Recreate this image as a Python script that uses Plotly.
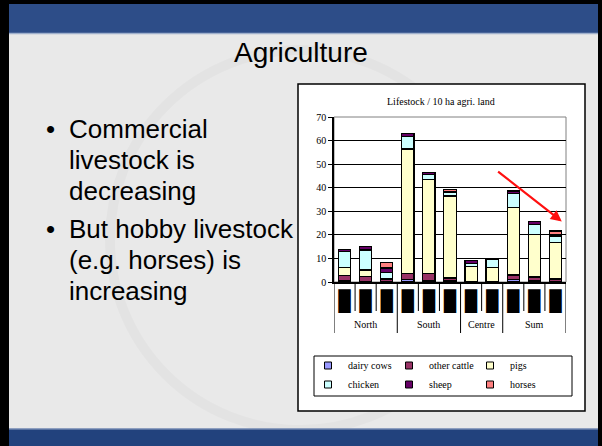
import plotly.graph_objects as go

# ---- data -------------------------------------------------------------
GROUPS = ["North", "South", "Centre", "Sum"]
GROUP_SIZES = [3, 3, 2, 3]
CATEGORIES = ["N1", "N2", "N3", "S1", "S2", "S3", "C1", "C2", "T1", "T2", "T3"]

SERIES = ["dairy cows", "other cattle", "pigs", "chicken", "sheep", "horses"]
dairy_cows = [0.5, 0.1, 0.2, 1.2, 0.7, 0.4, 0.0, 0.0, 1.0, 0.4, 0.2]
other_cattle = [2.3, 2.1, 1.0, 2.4, 2.9, 1.3, 0.1, 0.1, 2.0, 1.7, 1.1]
pigs = [3.3, 2.9, 0.3, 52.8, 40.0, 34.8, 6.5, 6.2, 28.6, 18.2, 15.6]
chicken = [7.0, 8.5, 2.4, 5.4, 2.1, 1.4, 1.3, 3.1, 5.9, 4.0, 2.6]
sheep = [0.7, 1.4, 2.0, 1.1, 0.9, 0.4, 1.1, 0.4, 1.0, 1.2, 0.7]
horses = [0.0, 0.0, 2.5, 0.0, 0.0, 1.0, 0.0, 0.0, 0.1, 0.0, 1.4]
VALUES = [dairy_cows, other_cattle, pigs, chicken, sheep, horses]
COLORS = ["#9999ff", "#993366", "#ffffcc", "#ccffff", "#660066", "#ff8080"]

BULLETS = [
    ["Commercial", "livestock is", "decreasing"],
    ["But hobby livestock", "(e.g. horses) is", "increasing"],
]

# ---- page geometry (plot area in px) ---------------------------------
W, H = 602, 446
L, R, T, B = 334, 566, 117, 282


def fx(px):
    return (px - L) / (R - L)


def fy(py):
    return (B - py) / (B - T)


SERIF = "Liberation Serif"
SANS = "Liberation Sans"

fig = go.Figure()
for i, (name, vals, col) in enumerate(zip(SERIES, VALUES, COLORS)):
    fig.add_trace(
        go.Bar(
            x=CATEGORIES,
            y=vals,
            name=name,
            marker=dict(color=col, line=dict(color="black", width=1.2)),
            width=0.58,
            showlegend=False,
        )
    )
    # small square legend swatch, legend laid out in 3 columns
    fig.add_trace(
        go.Scatter(
            x=[None],
            y=[None],
            mode="markers",
            name=name,
            legendgroup="col%d" % (i % 3),
            marker=dict(symbol="square", size=7, color=col,
                        line=dict(color="black", width=1)),
        )
    )

shapes = [
    # slide body
    dict(type="rect", xref="paper", yref="paper", x0=fx(9), x1=fx(598),
         y0=fy(446), y1=fy(4), fillcolor="#e9e9e9", line_width=0, layer="below"),
    dict(type="circle", xref="paper", yref="paper", x0=fx(110), x1=fx(490),
         y0=fy(430), y1=fy(50), line=dict(color="rgba(0,0,0,0.025)", width=10),
         layer="below"),
    # top band
    dict(type="rect", xref="paper", yref="paper", x0=fx(9), x1=fx(598),
         y0=fy(33), y1=fy(4), fillcolor="#2d4d88", line_width=0, layer="below"),
    dict(type="line", xref="paper", yref="paper", x0=fx(9), x1=fx(598),
         y0=fy(33.5), y1=fy(33.5), line=dict(color="#9fb0cc", width=1.5),
         layer="below"),
    # bottom band
    dict(type="rect", xref="paper", yref="paper", x0=fx(9), x1=fx(598),
         y0=fy(446), y1=fy(429), fillcolor="#22427d", line_width=0, layer="below"),
    dict(type="line", xref="paper", yref="paper", x0=fx(9), x1=fx(598),
         y0=fy(429), y1=fy(429), line=dict(color="#6f86b0", width=1.5),
         layer="below"),
    # chart box
    dict(type="rect", xref="paper", yref="paper", x0=fx(298), x1=fx(585),
         y0=fy(411), y1=fy(84), fillcolor="white",
         line=dict(color="black", width=1.5), layer="below"),
    # legend box
    dict(type="rect", xref="paper", yref="paper", x0=fx(314), x1=fx(572),
         y0=fy(396), y1=fy(356), fillcolor="white",
         line=dict(color="black", width=1), layer="below"),
    # plot area border (right/top)
    dict(type="rect", xref="paper", yref="paper", x0=0, x1=1, y0=0, y1=1,
         line=dict(color="#808080", width=1), layer="below"),
]

# category dividers below the x axis
edges = [0]
for n in GROUP_SIZES:
    edges.append(edges[-1] + n)
for k in range(len(CATEGORIES) + 1):
    bottom = fy(333) if k in edges else fy(311)
    shapes.append(dict(type="line", xref="x", yref="paper", x0=k - 0.5,
                       x1=k - 0.5, y0=0, y1=bottom,
                       line=dict(color="black", width=1)))

annotations = [
    dict(text="Agriculture", x=fx(301), y=fy(53), xref="paper", yref="paper",
         xanchor="center", yanchor="middle", showarrow=False,
         font=dict(family=SANS, size=28, color="black")),
    dict(text="Lifestock / 10 ha agri. land", x=fx(441), y=fy(101),
         xref="paper", yref="paper", xanchor="center", yanchor="middle",
         showarrow=False, font=dict(family=SERIF, size=10, color="black")),
    dict(text="", x=10.3, y=25.7, ax=7.21, ay=47.3, xref="x", yref="y",
         axref="x", ayref="y", showarrow=True, arrowhead=2, arrowsize=1,
         arrowwidth=2.2, arrowcolor="#ff1010"),
]

# group labels
for g, (name, n) in enumerate(zip(GROUPS, GROUP_SIZES)):
    mid = edges[g] + (n - 1) / 2
    annotations.append(dict(text=name, x=mid, y=fy(324), xref="x", yref="paper",
                            xanchor="center", yanchor="middle", showarrow=False,
                            font=dict(family=SERIF, size=10, color="black")))

# bullet text
line_y = [[128.6, 159.6, 190.6], [229.0, 259.6, 291.3]]
for lines, ys in zip(BULLETS, line_y):
    annotations.append(dict(text="•", x=fx(50), y=fy(ys[0]), xref="paper",
                            yref="paper", showarrow=False, xanchor="center",
                            yanchor="middle",
                            font=dict(family=SANS, size=26, color="black")))
    for txt, yy in zip(lines, ys):
        annotations.append(dict(text=txt, x=fx(67), y=fy(yy), xref="paper",
                                yref="paper", showarrow=False, xanchor="left",
                                yanchor="middle",
                                font=dict(family=SANS, size=26, color="black")))

fig.update_layout(
    width=W,
    height=H,
    margin=dict(l=L, r=W - R, t=T, b=H - B),
    paper_bgcolor="black",
    plot_bgcolor="rgba(0,0,0,0)",
    barmode="stack",
    bargap=0.4,
    shapes=shapes,
    annotations=annotations,
    showlegend=True,
    legend=dict(
        orientation="h",
        traceorder="grouped",
        tracegroupgap=0,
        x=fx(308),
        y=fy(351),
        xanchor="left",
        yanchor="top",
        bgcolor="rgba(0,0,0,0)",
        borderwidth=0,
        entrywidth=36,
        itemwidth=30,
        font=dict(family=SERIF, size=10, color="black"),
    ),
    xaxis=dict(
        type="category",
        tickmode="array",
        tickvals=CATEGORIES,
        ticktext=["█"] * len(CATEGORIES),
        tickfont=dict(family="DejaVu Sans Mono", size=20, color="black"),
        ticks="",
        showgrid=False,
        showline=True,
        linecolor="black",
        linewidth=1.5,
        range=[-0.5, len(CATEGORIES) - 0.5],
        fixedrange=True,
    ),
    yaxis=dict(
        range=[0, 70],
        dtick=10,
        ticks="outside",
        ticklen=4,
        tickcolor="black",
        tickfont=dict(family=SERIF, size=10, color="black"),
        showgrid=True,
        gridcolor="black",
        gridwidth=1,
        showline=True,
        linecolor="black",
        linewidth=1.5,
        zeroline=False,
    ),
)

fig.write_html(
    "out.html",
    config={"displayModeBar": False},
    post_script="document.body.style.margin='0';",
)
